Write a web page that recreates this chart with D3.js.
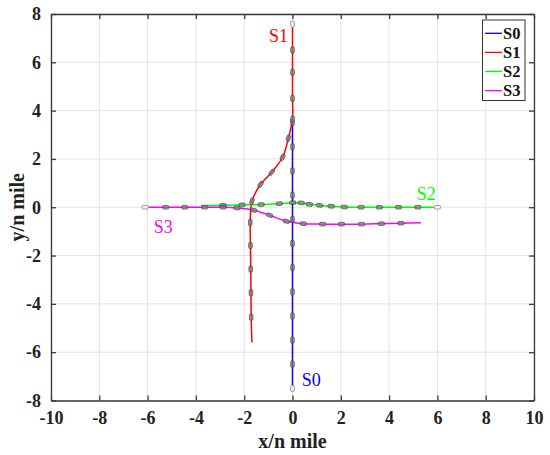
<!DOCTYPE html>
<html><head><meta charset="utf-8">
<script src="https://cdn.jsdelivr.net/npm/d3@7"></script>
<style>html,body{margin:0;padding:0;background:#fff;}svg{display:block;}
svg text{font-family:"Liberation Serif","Times New Roman","DejaVu Serif",serif;}</style>
</head><body>
<svg id="chart" width="550" height="455"></svg>
<script>
const xTicks = [-10,-8,-6,-4,-2,0,2,4,6,8,10];
const yTicks = [-8,-6,-4,-2,0,2,4,6,8];
const seriesNames = ["S0","S1","S2","S3"];
const seriesColors = ["#0000ff","#ff0000","#00ff00","#ff00ff"];

const s0Marks = [[0,-7.5],[0,-6.5],[0,-5.5],[0,-4.5],[0,-3.5],[0,-2.5],[0,-1.5],[0,-0.5],[0,0.5],[0,1.5],[0,2.5],[0,3.5]];
const s0Line = [[0,-7.5],[0,3.6]];

const s1Marks = [[0,7.58],[0,6.51],[0,5.59],[0,4.51],[0,3.65],[-0.17,2.86],[-0.41,2.07],[-0.86,1.45],[-1.32,0.95],[-1.68,0.25],[-1.75,-0.63],[-1.74,-1.58],[-1.73,-2.56],[-1.72,-3.54],[-1.71,-4.55]];
const s1Line = [[0,7.58],[0,6.51],[0,5.59],[0,4.51],[0,3.65],[-0.17,2.86],[-0.41,2.07],[-0.86,1.45],[-1.32,0.95],[-1.68,0.25],[-1.75,-0.63],[-1.74,-1.58],[-1.73,-2.56],[-1.72,-3.54],[-1.71,-4.55],[-1.68,-5.6]];

const s2Marks = [[6.0,0],[5.19,0],[4.39,0],[3.6,0],[2.84,0],[2.15,0.01],[1.6,0.04],[1.12,0.08],[0.7,0.12],[0.36,0.18],[0.01,0.19],[-0.55,0.15],[-1.3,0.11],[-2.09,0.1],[-2.88,0.08]];
const s2Line = [[6.0,0],[5.19,0],[4.39,0],[3.6,0],[2.84,0],[2.15,0.01],[1.6,0.04],[1.12,0.08],[0.7,0.12],[0.36,0.18],[0.01,0.19],[-0.55,0.15],[-1.3,0.11],[-2.09,0.1],[-2.88,0.08],[-3.78,0.07]];

const s3Marks = [[-6.1,0],[-5.25,0],[-4.46,0],[-3.64,0],[-2.88,0],[-2.3,-0.03],[-1.61,-0.12],[-0.95,-0.33],[-0.26,-0.58],[0.45,-0.68],[1.25,-0.7],[2.03,-0.7],[2.86,-0.7],[3.68,-0.68],[4.49,-0.66]];
const s3Line = [[-6.1,0],[-5.25,0],[-4.46,0],[-3.64,0],[-2.88,0],[-2.3,-0.03],[-1.61,-0.12],[-0.95,-0.33],[-0.26,-0.58],[0.45,-0.68],[1.25,-0.7],[2.03,-0.7],[2.86,-0.7],[3.68,-0.68],[4.49,-0.66],[5.32,-0.64]];

// label anchor positions in data units (left, baseline)
const seriesLabelPos = [[0.38,-7.42],[-0.97,6.84],[5.14,0.3],[-5.75,-1.07]];

const lines = [s0Line,s1Line,s2Line,s3Line];
const marks = [s0Marks,s1Marks,s2Marks,s3Marks];

const L=51, R=534, T=14, B=400.5;
const svg = d3.select("#chart");
const x = d3.scaleLinear().domain([-10,10]).range([L,R]);
const y = d3.scaleLinear().domain([-8,8]).range([B,T]);
const font = "Liberation Serif, Times New Roman, serif";
const fmt = d => String(d); // hyphen-minus like the reference

// grid
svg.append("g").selectAll("line").data(xTicks).join("line")
  .attr("x1",d=>x(d)).attr("x2",d=>x(d)).attr("y1",T).attr("y2",B)
  .attr("stroke","#e3e3e3").attr("stroke-width",1);
svg.append("g").selectAll("line").data(yTicks).join("line")
  .attr("y1",d=>y(d)).attr("y2",d=>y(d)).attr("x1",L).attr("x2",R)
  .attr("stroke","#e3e3e3").attr("stroke-width",1);

// axes (inward ticks, box)
const axStyle = g => { g.select(".domain").attr("stroke","#3a3a3a").attr("stroke-width",1.3);
  g.selectAll(".tick line").attr("stroke","#3a3a3a").attr("stroke-width",1.3); };
const txtStyle = g => g.selectAll("text").attr("font-family",font).attr("font-weight","bold").attr("font-size",18).attr("fill","#222");
svg.append("g").attr("transform",`translate(0,${B})`)
  .call(d3.axisBottom(x).tickValues(xTicks).tickFormat(fmt).tickSizeInner(-5).tickSizeOuter(0).tickPadding(11))
  .call(axStyle).call(txtStyle);
svg.append("g").attr("transform",`translate(${L},0)`)
  .call(d3.axisLeft(y).tickValues(yTicks).tickFormat(fmt).tickSizeInner(-5).tickSizeOuter(0).tickPadding(10))
  .call(axStyle).call(txtStyle);
svg.append("g").attr("transform",`translate(0,${T})`)
  .call(d3.axisTop(x).tickValues(xTicks).tickSizeInner(-5).tickSizeOuter(0).tickFormat(""))
  .call(axStyle);
svg.append("g").attr("transform",`translate(${R},0)`)
  .call(d3.axisRight(y).tickValues(yTicks).tickSizeInner(-5).tickSizeOuter(0).tickFormat(""))
  .call(axStyle);

// axis titles
svg.append("text").attr("x",(L+R)/2).attr("y",448).attr("text-anchor","middle")
  .attr("font-family",font).attr("font-weight","bold").attr("font-size",20).attr("fill","#222").text("x/n mile");
svg.append("text").attr("transform",`translate(24,${(T+B)/2}) rotate(-90)`).attr("text-anchor","middle")
  .attr("font-family",font).attr("font-weight","bold").attr("font-size",20).attr("fill","#222").text("y/n mile");

// lines
const lineGen = d3.line().x(d=>x(d[0])).y(d=>y(d[1])).curve(d3.curveCatmullRom.alpha(0.5));
const plot = svg.append("g");
lines.forEach((ln,i)=>{
  plot.append("path").datum(ln).attr("d",lineGen).attr("fill","none")
    .attr("stroke",seriesColors[i]).attr("stroke-width",1.5);
});

// markers (rotated rounded rects along heading)
marks.forEach((mk,i)=>{
  const px = mk.map(d=>[x(d[0]),y(d[1])]);
  const g = plot.append("g");
  g.selectAll("rect").data(px).join("rect")
    .attr("x",-3.2).attr("y",-1.8).attr("width",6.4).attr("height",3.6).attr("rx",1.4)
    .attr("transform",(d,k)=>{
      const a = px[Math.max(0,k-1)], b = px[Math.min(px.length-1,k+1)];
      const ang = Math.atan2(b[1]-a[1], b[0]-a[0])*180/Math.PI;
      return `translate(${d[0]},${d[1]}) rotate(${ang})`;
    })
    .attr("fill",(d,k)=>k===0?"#f2f2f2":"#808080").attr("fill-opacity",(d,k)=>k===0?1:0.7)
    .attr("stroke",(d,k)=>k===0?"#777":"#444").attr("stroke-width",0.7);
});

// series labels
seriesNames.forEach((n,i)=>{
  svg.append("text").attr("x",x(seriesLabelPos[i][0])).attr("y",y(seriesLabelPos[i][1]))
    .attr("font-family",font).attr("font-size",18).attr("fill",seriesColors[i]).text(n);
});

// legend
const lg = svg.append("g");
lg.append("rect").attr("x",482.5).attr("y",20).attr("width",42.5).attr("height",80.5)
  .attr("fill","#fff").attr("stroke","#333").attr("stroke-width",1);
seriesNames.forEach((n,i)=>{
  const cy = 33.3 + i*19.1;
  lg.append("line").attr("x1",485).attr("x2",502).attr("y1",cy).attr("y2",cy)
    .attr("stroke",seriesColors[i]).attr("stroke-width",1.3);
  lg.append("text").attr("x",503).attr("y",cy+5.5).attr("font-family",font).attr("font-weight","bold")
    .attr("font-size",16.5).attr("fill","#111").text(n);
});
</script>
</body></html>
